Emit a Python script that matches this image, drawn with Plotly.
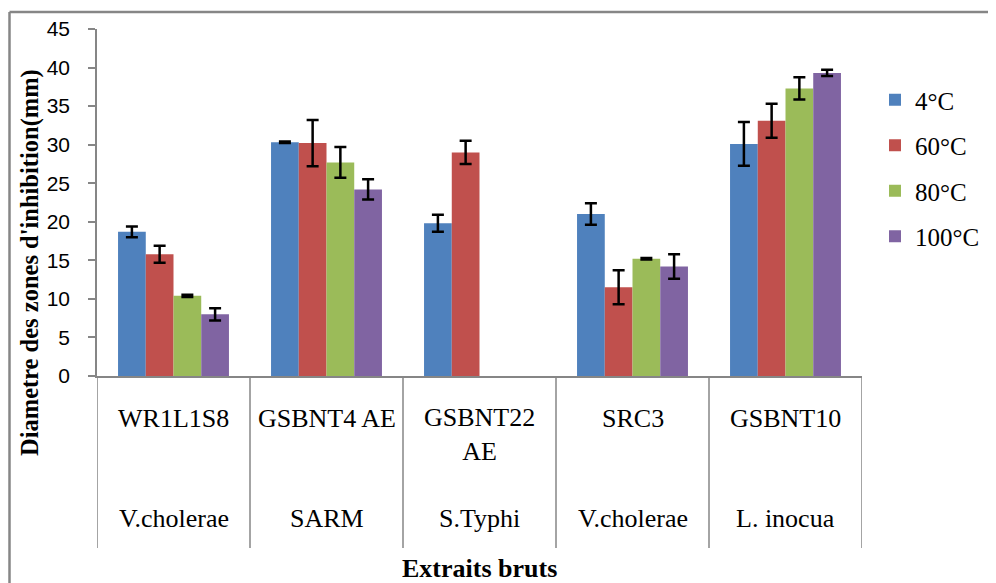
import plotly.graph_objects as go

extracts = ["WR1L1S8", "GSBNT4 AE", "GSBNT22<br>AE", "SRC3", "GSBNT10"]
species = ["V.cholerae", "SARM", "S.Typhi", "V.cholerae", "L. inocua"]
series_names = ["4°C", "60°C", "80°C", "100°C"]
v_4 = [18.7, 30.3, 19.8, 21.0, 30.1]
v_60 = [15.8, 30.2, 29.0, 11.5, 33.1]
v_80 = [10.4, 27.7, None, 15.2, 37.3]
v_100 = [8.0, 24.2, None, 14.2, 39.3]
e_4 = [0.7, 0.1, 1.1, 1.4, 2.85]
e_60 = [1.1, 3.0, 1.5, 2.2, 2.2]
e_80 = [0.15, 2.0, None, 0.1, 1.45]
e_100 = [0.8, 1.3, None, 1.6, 0.4]
colors = ["#4F81BD", "#C0504D", "#9BBB59", "#8064A2"]

values = [v_4, v_60, v_80, v_100]
errors = [e_4, e_60, e_80, e_100]
xpos = list(range(len(extracts)))

fig = go.Figure()
for i, name in enumerate(series_names):
    fig.add_trace(go.Bar(
        x=xpos, y=values[i], name=name, legendgroup=name,
        marker=dict(color=colors[i], line=dict(width=0)),
        error_y=dict(type="data", array=errors[i], color="black", thickness=2.5, width=6, visible=True),
    ))

# page offset (body margin) is 8px; plot area in page coordinates:
PL, PR, PT, PB = 97, 862, 29, 376
OFF = 8
W_PLOT = PR - PL
H_PLOT = PB - PT
SERIF = "Liberation Serif"

annotations = []
for i in xpos:
    annotations.append(dict(x=i, y=0, xref="x", yref="paper", text=extracts[i], showarrow=False,
                            yanchor="middle", yshift=-(58 if "<br>" in extracts[i] else 42),
                            font=dict(family=SERIF, size=26, color="black")))
    annotations.append(dict(x=i, y=0, xref="x", yref="paper", text=species[i], showarrow=False,
                            yanchor="middle", yshift=-142,
                            font=dict(family=SERIF, size=26, color="black")))
annotations.append(dict(x=0.5, y=0, xref="paper", yref="paper", text="<b>Extraits bruts</b>",
                        showarrow=False, yanchor="middle", yshift=-192,
                        font=dict(family=SERIF, size=26, color="black")))
annotations.append(dict(x=(30 - PL) / W_PLOT, y=(PB - 263) / H_PLOT, xref="paper", yref="paper",
                        text="<b>Diametre des zones d'inhibition(mm)</b>", textangle=-90,
                        showarrow=False, xanchor="center", yanchor="middle",
                        font=dict(family=SERIF, size=24.5, color="black")))

shapes = []
for k in range(len(extracts) + 1):
    shapes.append(dict(type="line", xref="x", yref="paper", x0=k - 0.5, x1=k - 0.5,
                       y0=0, y1=-(548 - PB) / H_PLOT, line=dict(color="#868686", width=1.5)))
# chart-area border (top and left)
shapes.append(dict(type="line", xref="paper", yref="paper", x0=(9.5 - PL) / W_PLOT, x1=(1000 - PL) / W_PLOT,
                   y0=(PB - 12) / H_PLOT, y1=(PB - 12) / H_PLOT, line=dict(color="#868686", width=2.5)))
shapes.append(dict(type="line", xref="paper", yref="paper", x0=(9.5 - PL) / W_PLOT, x1=(9.5 - PL) / W_PLOT,
                   y0=(PB - 12) / H_PLOT, y1=(PB - 590) / H_PLOT, line=dict(color="#868686", width=2.5)))

fig.update_layout(
    width=996 - OFF, height=583 - OFF,
    margin=dict(l=PL - OFF, r=996 - PR, t=PT - OFF, b=583 - PB, autoexpand=False),
    paper_bgcolor="white", plot_bgcolor="white",
    barmode="group", bargap=0.275, bargroupgap=0,
    showlegend=True,
    legend=dict(x=(875 - PL) / W_PLOT, y=(PB - 77) / H_PLOT, xanchor="left", yanchor="top",
                font=dict(family=SERIF, size=25, color="black"),
                tracegroupgap=10, itemwidth=30, bgcolor="rgba(0,0,0,0)"),
    xaxis=dict(range=[-0.5, 4.5], showticklabels=False, ticks="", showgrid=False, zeroline=False,
               showline=True, linecolor="#868686", linewidth=1.5, fixedrange=True),
    yaxis=dict(range=[0, 45], dtick=5, ticks="outside", ticklen=7, tickcolor="#868686", tickwidth=1.5,
               showgrid=False, zeroline=False, showline=True, linecolor="#868686", linewidth=1.5,
               tickfont=dict(family="Liberation Sans", size=21, color="black"), ticklabelstandoff=14),
    annotations=annotations, shapes=shapes,
)

fig.write_html("out.html")
